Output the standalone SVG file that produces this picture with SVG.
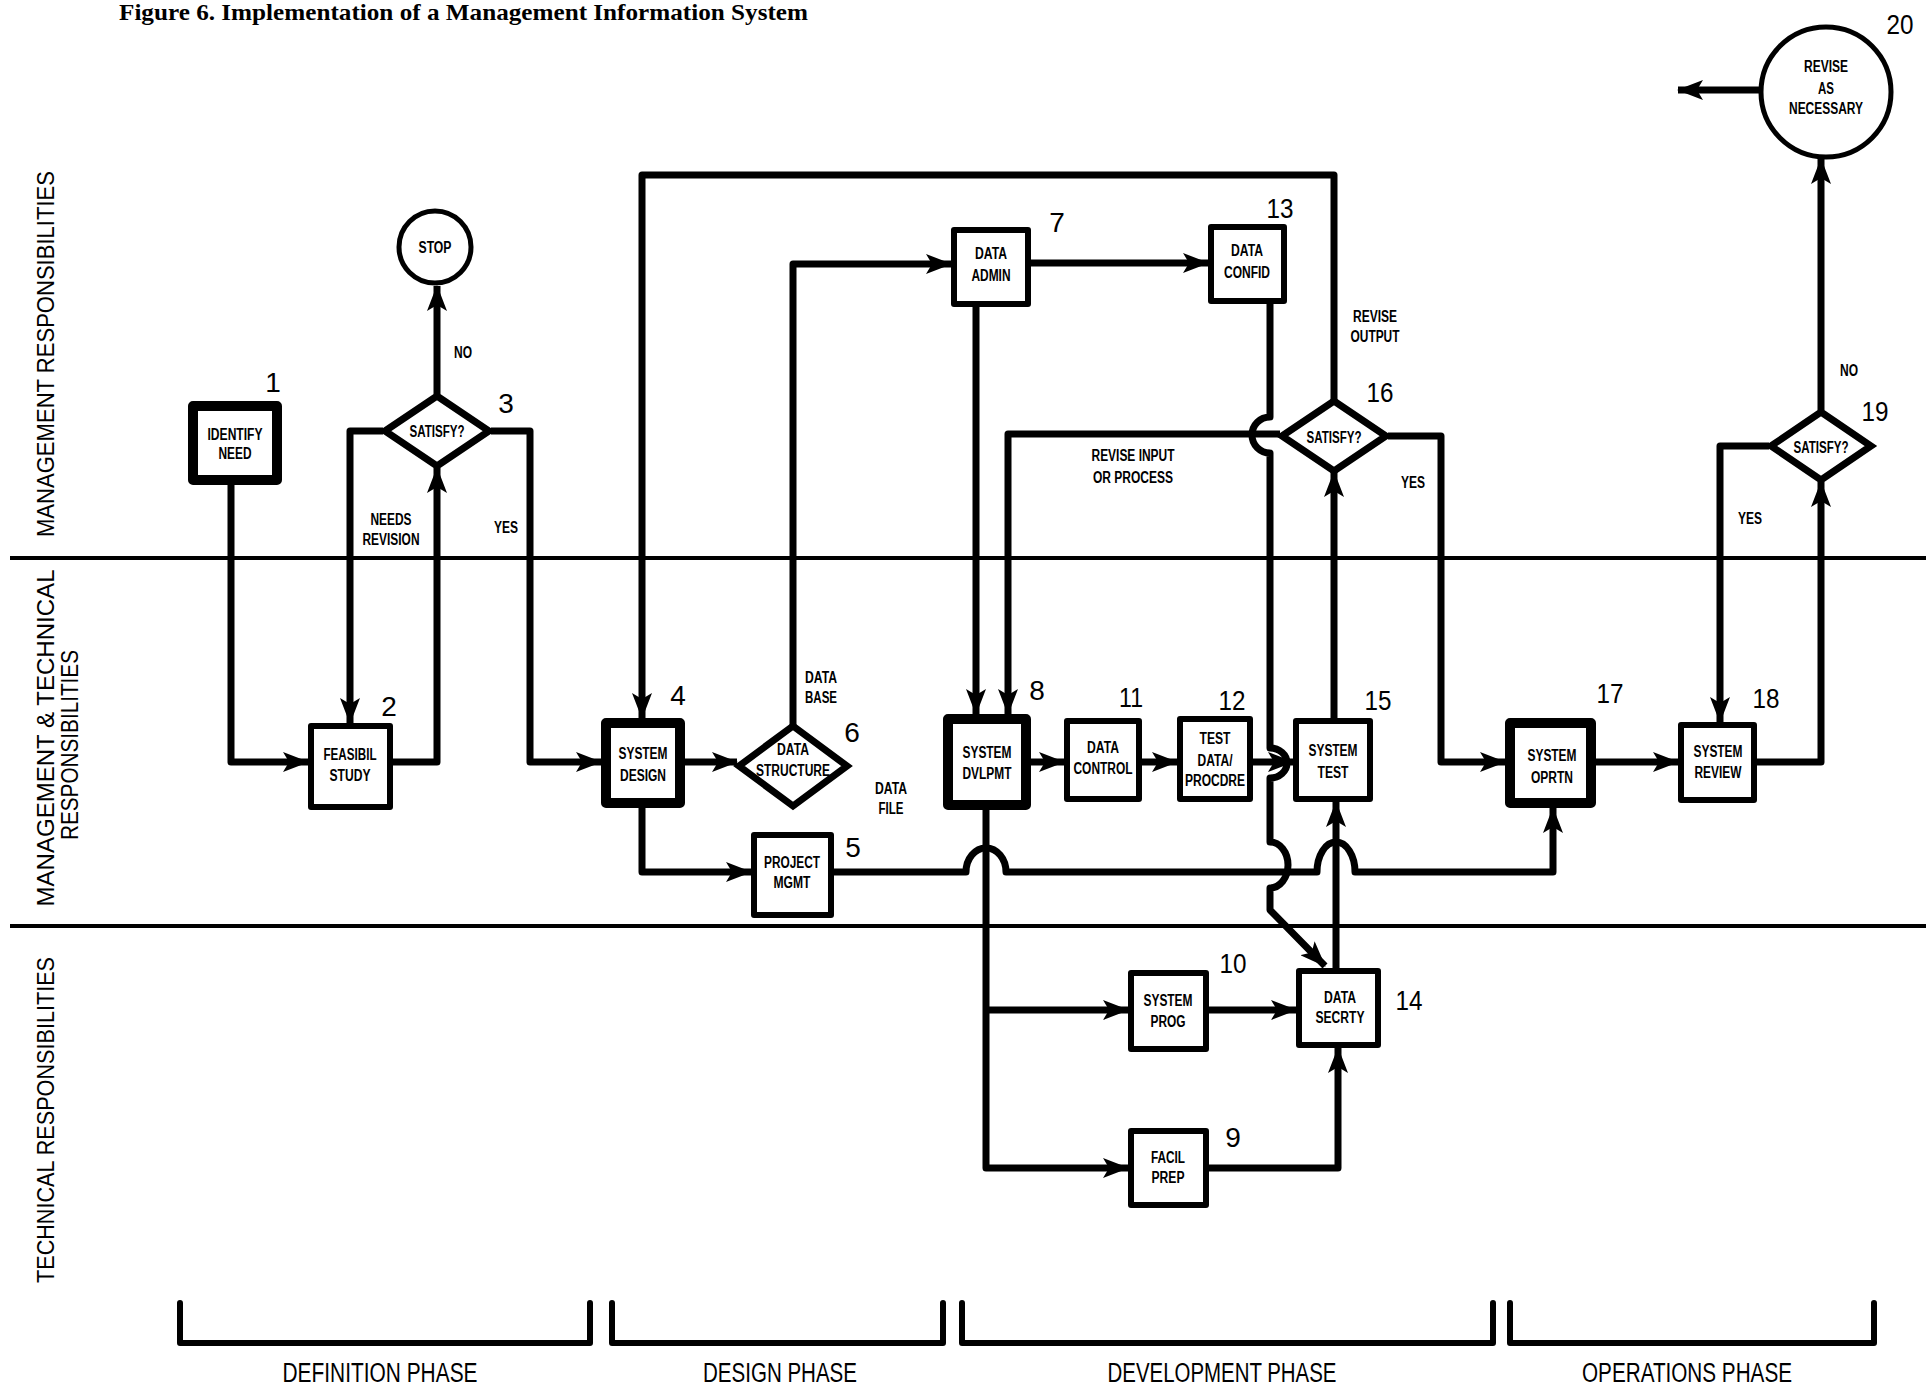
<svg xmlns="http://www.w3.org/2000/svg" width="1926" height="1388" viewBox="0 0 1926 1388">
<style>
.lane{stroke:#000;stroke-width:4;fill:none}
.box{fill:#fff;stroke:#000;stroke-width:6;stroke-linejoin:round}
.thick{stroke-width:10}
.dia{fill:#fff;stroke:#000;stroke-width:7;stroke-linejoin:miter}
.circ{fill:#fff;stroke:#000;stroke-width:5}
.con{fill:none;stroke:#000;stroke-width:7;stroke-linejoin:round}
.arr{marker-end:url(#ah)}
.brk{fill:none;stroke:#000;stroke-width:6;stroke-linejoin:round;stroke-linecap:round}
text{font-family:"Liberation Sans",Arial,sans-serif;fill:#000}
.t{font-size:16px;font-weight:bold;text-anchor:middle}
.num{font-size:28px;text-anchor:middle}
.side{font-size:23px;text-anchor:middle}
.phase{font-size:27px;text-anchor:middle}
.title{font-family:"Liberation Serif","Times New Roman",serif;font-weight:bold;font-size:24px}
</style>
<defs>
<marker id="ah" markerUnits="userSpaceOnUse" markerWidth="26" markerHeight="20" viewBox="0 0 26 20" refX="25" refY="10" orient="auto">
<path d="M0,0 L26,10 L0,20 L6,10 z" fill="#000"/>
</marker>
</defs>
<rect width="1926" height="1388" fill="#fff"/>
<text class="title" x="119" y="20" textLength="689" lengthAdjust="spacingAndGlyphs">Figure 6. Implementation of a Management Information System</text>

<g id="lanes">
<path class="lane" d="M10 558 H1926"/>
<path class="lane" d="M10 926 H1926"/>
<text class="side" transform="translate(54,354) rotate(-90)" textLength="366" lengthAdjust="spacingAndGlyphs">MANAGEMENT RESPONSIBILITIES</text>
<text class="side" transform="translate(54,738) rotate(-90)" textLength="337" lengthAdjust="spacingAndGlyphs">MANAGEMENT &amp; TECHNICAL</text>
<text class="side" transform="translate(78,745) rotate(-90)" textLength="190" lengthAdjust="spacingAndGlyphs">RESPONSIBILITIES</text>
<text class="side" transform="translate(54,1120) rotate(-90)" textLength="326" lengthAdjust="spacingAndGlyphs">TECHNICAL RESPONSIBILITIES</text>
</g>

<g id="phases">
<path class="brk" d="M180 1303 V1343 H590 V1303"/>
<path class="brk" d="M612 1303 V1343 H943 V1303"/>
<path class="brk" d="M962 1303 V1343 H1493 V1303"/>
<path class="brk" d="M1510 1303 V1343 H1874 V1303"/>
<text class="phase" x="380" y="1382" textLength="195" lengthAdjust="spacingAndGlyphs">DEFINITION PHASE</text>
<text class="phase" x="780" y="1382" textLength="154" lengthAdjust="spacingAndGlyphs">DESIGN PHASE</text>
<text class="phase" x="1222" y="1382" textLength="229" lengthAdjust="spacingAndGlyphs">DEVELOPMENT PHASE</text>
<text class="phase" x="1687" y="1382" textLength="210" lengthAdjust="spacingAndGlyphs">OPERATIONS PHASE</text>
</g>

<g id="connectors">
<path class="con arr" d="M231 485 V762 H308"/>
<path class="con arr" d="M393 762 H437 V468"/>
<path class="con arr" d="M437 394 V286"/>
<path class="con arr" d="M383 431 H350 V723"/>
<path class="con arr" d="M491 431 H530 V762 H601"/>
<path class="con arr" d="M1334 400 V175 H642 V718"/>
<path class="con arr" d="M685 762 H737"/>
<path class="con arr" d="M642 808 V872 H751"/>
<path class="con arr" d="M793 725 V264 H951"/>
<path class="con arr" d="M1031 263 H1208"/>
<path class="con arr" d="M976 307 V714"/>
<path class="con arr" d="M1280 434 H1008 V714"/>
<path class="con arr" d="M1270 304 V417 A18 18 0 0 0 1270 453 V748 A17 15 0 0 1 1270 778 V842 A18 23 0 0 1 1270 888 V910 L1325 966"/>
<path class="con arr" d="M1031 762 H1064"/>
<path class="con arr" d="M1142 762 H1177"/>
<path class="con arr" d="M1253 762 H1293"/>
<path class="con arr" d="M1334 718 V472"/>
<path class="con arr" d="M1336 968 V802"/>
<path class="con arr" d="M1388 436 H1441 V762 H1505"/>
<path class="con arr" d="M1596 762 H1678"/>
<path class="con arr" d="M1757 762 H1821 V482"/>
<path class="con arr" d="M1769 446 H1720 V722"/>
<path class="con arr" d="M1821 410 V159"/>
<path class="con arr" d="M1760 90 H1678"/>
<path class="con arr" d="M834 872 H966 A20 24 0 0 1 1006 872 H1317 A19 30 0 0 1 1355 872 H1553 V808"/>
<path class="con arr" d="M986 810 V1168 H1128"/>
<path class="con arr" d="M986 1010 H1128"/>
<path class="con arr" d="M1209 1010 H1296"/>
<path class="con arr" d="M1209 1168 H1338 V1048"/>
<text class="t" x="463" y="358" textLength="18" lengthAdjust="spacingAndGlyphs">NO</text>
<text class="t" x="391" y="525" textLength="41" lengthAdjust="spacingAndGlyphs">NEEDS</text>
<text class="t" x="391" y="545" textLength="57" lengthAdjust="spacingAndGlyphs">REVISION</text>
<text class="t" x="506" y="533" textLength="24" lengthAdjust="spacingAndGlyphs">YES</text>
<text class="t" x="821" y="683" textLength="32" lengthAdjust="spacingAndGlyphs">DATA</text>
<text class="t" x="821" y="703" textLength="32" lengthAdjust="spacingAndGlyphs">BASE</text>
<text class="t" x="891" y="794" textLength="32" lengthAdjust="spacingAndGlyphs">DATA</text>
<text class="t" x="891" y="814" textLength="25" lengthAdjust="spacingAndGlyphs">FILE</text>
<text class="t" x="1133" y="461" textLength="83" lengthAdjust="spacingAndGlyphs">REVISE INPUT</text>
<text class="t" x="1133" y="483" textLength="80" lengthAdjust="spacingAndGlyphs">OR PROCESS</text>
<text class="t" x="1375" y="322" textLength="44" lengthAdjust="spacingAndGlyphs">REVISE</text>
<text class="t" x="1375" y="342" textLength="49" lengthAdjust="spacingAndGlyphs">OUTPUT</text>
<text class="t" x="1413" y="488" textLength="24" lengthAdjust="spacingAndGlyphs">YES</text>
<text class="t" x="1849" y="376" textLength="18" lengthAdjust="spacingAndGlyphs">NO</text>
<text class="t" x="1750" y="524" textLength="24" lengthAdjust="spacingAndGlyphs">YES</text>
</g>

<g id="n1"><rect class="box thick" x="193" y="406" width="84" height="74"/>
<text class="t" x="235" y="440" textLength="55" lengthAdjust="spacingAndGlyphs">IDENTIFY</text>
<text class="t" x="235" y="459" textLength="33" lengthAdjust="spacingAndGlyphs">NEED</text>
<text class="num" x="273" y="392">1</text></g>

<g id="n2"><rect class="box" x="311" y="726" width="79" height="81"/>
<text class="t" x="350" y="760" textLength="53" lengthAdjust="spacingAndGlyphs">FEASIBIL</text>
<text class="t" x="350" y="781" textLength="41" lengthAdjust="spacingAndGlyphs">STUDY</text>
<text class="num" x="389" y="716">2</text></g>

<g id="n3"><polygon class="dia" points="385,431 437,396 489,431 437,466"/>
<text class="t" x="437" y="437" textLength="55" lengthAdjust="spacingAndGlyphs">SATISFY?</text>
<text class="num" x="506" y="413">3</text></g>

<g id="stop"><circle class="circ" cx="435" cy="247" r="36"/>
<text class="t" x="435" y="253" textLength="33" lengthAdjust="spacingAndGlyphs">STOP</text></g>

<g id="n4"><rect class="box thick" x="606" y="723" width="74" height="80"/>
<text class="t" x="643" y="759" textLength="49" lengthAdjust="spacingAndGlyphs">SYSTEM</text>
<text class="t" x="643" y="781" textLength="46" lengthAdjust="spacingAndGlyphs">DESIGN</text>
<text class="num" x="678" y="705">4</text></g>

<g id="n5"><rect class="box" x="754" y="835" width="77" height="80"/>
<text class="t" x="792" y="868" textLength="56" lengthAdjust="spacingAndGlyphs">PROJECT</text>
<text class="t" x="792" y="888" textLength="37" lengthAdjust="spacingAndGlyphs">MGMT</text>
<text class="num" x="853" y="857">5</text></g>

<g id="n6"><polygon class="dia" points="739,766 793,726 847,766 793,806"/>
<text class="t" x="793" y="755" textLength="32" lengthAdjust="spacingAndGlyphs">DATA</text>
<text class="t" x="793" y="776" textLength="74" lengthAdjust="spacingAndGlyphs">STRUCTURE</text>
<text class="num" x="852" y="742">6</text></g>

<g id="n7"><rect class="box" x="954" y="230" width="74" height="74"/>
<text class="t" x="991" y="259" textLength="32" lengthAdjust="spacingAndGlyphs">DATA</text>
<text class="t" x="991" y="281" textLength="39" lengthAdjust="spacingAndGlyphs">ADMIN</text>
<text class="num" x="1057" y="232">7</text></g>

<g id="n8"><rect class="box thick" x="948" y="719" width="78" height="86"/>
<text class="t" x="987" y="758" textLength="49" lengthAdjust="spacingAndGlyphs">SYSTEM</text>
<text class="t" x="987" y="779" textLength="49" lengthAdjust="spacingAndGlyphs">DVLPMT</text>
<text class="num" x="1037" y="700">8</text></g>

<g id="n9"><rect class="box" x="1131" y="1131" width="75" height="74"/>
<text class="t" x="1168" y="1163" textLength="34" lengthAdjust="spacingAndGlyphs">FACIL</text>
<text class="t" x="1168" y="1183" textLength="33" lengthAdjust="spacingAndGlyphs">PREP</text>
<text class="num" x="1233" y="1147">9</text></g>

<g id="n10"><rect class="box" x="1131" y="973" width="75" height="76"/>
<text class="t" x="1168" y="1006" textLength="49" lengthAdjust="spacingAndGlyphs">SYSTEM</text>
<text class="t" x="1168" y="1027" textLength="35" lengthAdjust="spacingAndGlyphs">PROG</text>
<text class="num" x="1233" y="973" textLength="27" lengthAdjust="spacingAndGlyphs">10</text></g>

<g id="n11"><rect class="box" x="1067" y="721" width="72" height="78"/>
<text class="t" x="1103" y="753" textLength="32" lengthAdjust="spacingAndGlyphs">DATA</text>
<text class="t" x="1103" y="774" textLength="59" lengthAdjust="spacingAndGlyphs">CONTROL</text>
<text class="num" x="1131" y="707" textLength="24" lengthAdjust="spacingAndGlyphs">11</text></g>

<g id="n12"><rect class="box" x="1180" y="719" width="70" height="80"/>
<text class="t" x="1215" y="744" textLength="31" lengthAdjust="spacingAndGlyphs">TEST</text>
<text class="t" x="1215" y="766" textLength="35" lengthAdjust="spacingAndGlyphs">DATA/</text>
<text class="t" x="1215" y="786" textLength="60" lengthAdjust="spacingAndGlyphs">PROCDRE</text>
<text class="num" x="1232" y="710" textLength="27" lengthAdjust="spacingAndGlyphs">12</text></g>

<g id="n13"><rect class="box" x="1211" y="227" width="73" height="74"/>
<text class="t" x="1247" y="256" textLength="32" lengthAdjust="spacingAndGlyphs">DATA</text>
<text class="t" x="1247" y="278" textLength="46" lengthAdjust="spacingAndGlyphs">CONFID</text>
<text class="num" x="1280" y="218" textLength="27" lengthAdjust="spacingAndGlyphs">13</text></g>

<g id="n14"><rect class="box" x="1299" y="971" width="79" height="74"/>
<text class="t" x="1340" y="1003" textLength="32" lengthAdjust="spacingAndGlyphs">DATA</text>
<text class="t" x="1340" y="1023" textLength="49" lengthAdjust="spacingAndGlyphs">SECRTY</text>
<text class="num" x="1409" y="1010" textLength="27" lengthAdjust="spacingAndGlyphs">14</text></g>

<g id="n15"><rect class="box" x="1296" y="721" width="74" height="78"/>
<text class="t" x="1333" y="756" textLength="49" lengthAdjust="spacingAndGlyphs">SYSTEM</text>
<text class="t" x="1333" y="778" textLength="31" lengthAdjust="spacingAndGlyphs">TEST</text>
<text class="num" x="1378" y="710" textLength="27" lengthAdjust="spacingAndGlyphs">15</text></g>

<g id="n16"><polygon class="dia" points="1282,436 1334,401 1386,436 1334,471"/>
<text class="t" x="1334" y="443" textLength="55" lengthAdjust="spacingAndGlyphs">SATISFY?</text>
<text class="num" x="1380" y="402" textLength="27" lengthAdjust="spacingAndGlyphs">16</text></g>

<g id="n17"><rect class="box thick" x="1510" y="723" width="81" height="80"/>
<text class="t" x="1552" y="761" textLength="49" lengthAdjust="spacingAndGlyphs">SYSTEM</text>
<text class="t" x="1552" y="783" textLength="42" lengthAdjust="spacingAndGlyphs">OPRTN</text>
<text class="num" x="1610" y="703" textLength="27" lengthAdjust="spacingAndGlyphs">17</text></g>

<g id="n18"><rect class="box" x="1681" y="725" width="73" height="75"/>
<text class="t" x="1718" y="757" textLength="49" lengthAdjust="spacingAndGlyphs">SYSTEM</text>
<text class="t" x="1718" y="778" textLength="47" lengthAdjust="spacingAndGlyphs">REVIEW</text>
<text class="num" x="1766" y="708" textLength="27" lengthAdjust="spacingAndGlyphs">18</text></g>

<g id="n19"><polygon class="dia" points="1771,446 1821,412 1871,446 1821,480"/>
<text class="t" x="1821" y="453" textLength="55" lengthAdjust="spacingAndGlyphs">SATISFY?</text>
<text class="num" x="1875" y="421" textLength="27" lengthAdjust="spacingAndGlyphs">19</text></g>

<g id="n20"><circle class="circ" cx="1826" cy="92" r="65"/>
<text class="t" x="1826" y="72" textLength="44" lengthAdjust="spacingAndGlyphs">REVISE</text>
<text class="t" x="1826" y="94" textLength="16" lengthAdjust="spacingAndGlyphs">AS</text>
<text class="t" x="1826" y="114" textLength="74" lengthAdjust="spacingAndGlyphs">NECESSARY</text>
<text class="num" x="1900" y="34" textLength="27" lengthAdjust="spacingAndGlyphs">20</text></g>
</svg>
